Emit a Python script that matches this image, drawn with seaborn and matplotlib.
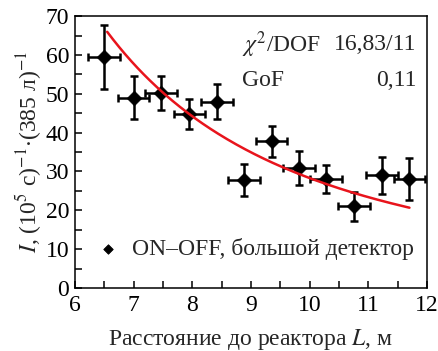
import numpy as np
import pandas as pd
import matplotlib
matplotlib.use("Agg")
import matplotlib.pyplot as plt
import seaborn as sns
from matplotlib.ticker import MultipleLocator

# Data
distance = [6.50, 7.00, 7.47, 7.95, 8.42, 8.88, 9.35, 9.82, 10.28, 10.76, 11.23, 11.70]
rate = [59.5, 49.0, 50.2, 44.8, 48.0, 27.8, 37.8, 31.0, 28.0, 21.0, 29.0, 28.0]
rate_err = [8.2, 5.6, 4.3, 3.8, 4.5, 4.2, 4.0, 4.4, 3.6, 3.7, 4.7, 5.4]
dist_err = [0.27] * 12
fit_amplitude = 2830.0  # I = A / L^2
fit_range = (6.55, 11.7)

sns.set_theme(style="ticks")
plt.rcParams['font.family'] = ['Liberation Serif', 'DejaVu Serif']
plt.rcParams['mathtext.fontset'] = 'stix'
plt.rcParams['axes.linewidth'] = 1.1

FS = 17

fig = plt.figure(figsize=(4.38, 3.51), dpi=100)
ax = fig.add_axes([0.171, 0.1795, 0.804, 0.7745])

df = pd.DataFrame({"L": distance, "I": rate})
ax.errorbar(distance, rate, yerr=rate_err, xerr=dist_err, fmt='none',
            ecolor='black', elinewidth=1.8, capsize=2.8, capthick=1.8, zorder=2)
sns.scatterplot(data=df, x="L", y="I", marker="D", s=55, color="black",
                edgecolor="black", ax=ax, zorder=3,
                label="ON–OFF, большой детектор")

Lfit = np.linspace(fit_range[0], fit_range[1], 200)
fit_df = pd.DataFrame({"L": Lfit, "I": fit_amplitude / Lfit**2})
sns.lineplot(data=fit_df, x="L", y="I", color="#e8141c", lw=1.8, ax=ax,
             zorder=4, legend=False)

ax.set_xlim(6, 12)
ax.set_ylim(0, 70)
ax.xaxis.set_major_locator(MultipleLocator(1))
ax.xaxis.set_minor_locator(MultipleLocator(0.5))
ax.yaxis.set_major_locator(MultipleLocator(10))
ax.yaxis.set_minor_locator(MultipleLocator(5))
ax.tick_params(which='both', direction='in', length=5, width=1.1,
               top=False, right=False, labelsize=FS, colors='black')
ax.tick_params(axis='x', pad=5)
ax.tick_params(axis='y', pad=4)
for s in ax.spines.values():
    s.set_color('black')
    s.set_visible(True)

ax.set_xlabel("Расстояние до реактора $L$, м", fontsize=FS, labelpad=8)
ax.set_ylabel("$I$, (10$^5$ с)$^{-1}$$\\cdot$(385 л)$^{-1}$", fontsize=FS, labelpad=1)

ax.text(0.475, 0.895, "$\\chi^2$/DOF", transform=ax.transAxes, fontsize=FS,
        ha='left', va='center')
ax.text(0.97, 0.895, "16,83/11", transform=ax.transAxes, fontsize=FS,
        ha='right', va='center')
ax.text(0.475, 0.765, "GoF", transform=ax.transAxes, fontsize=FS,
        ha='left', va='center')
ax.text(0.97, 0.765, "0,11", transform=ax.transAxes, fontsize=FS,
        ha='right', va='center')

leg = ax.legend(loc='lower right', frameon=False, fontsize=FS,
                handletextpad=0.0, borderaxespad=0.1, markerscale=0.65,
                bbox_to_anchor=(0.995, 0.06))

fig.savefig("out.png", dpi=100)
